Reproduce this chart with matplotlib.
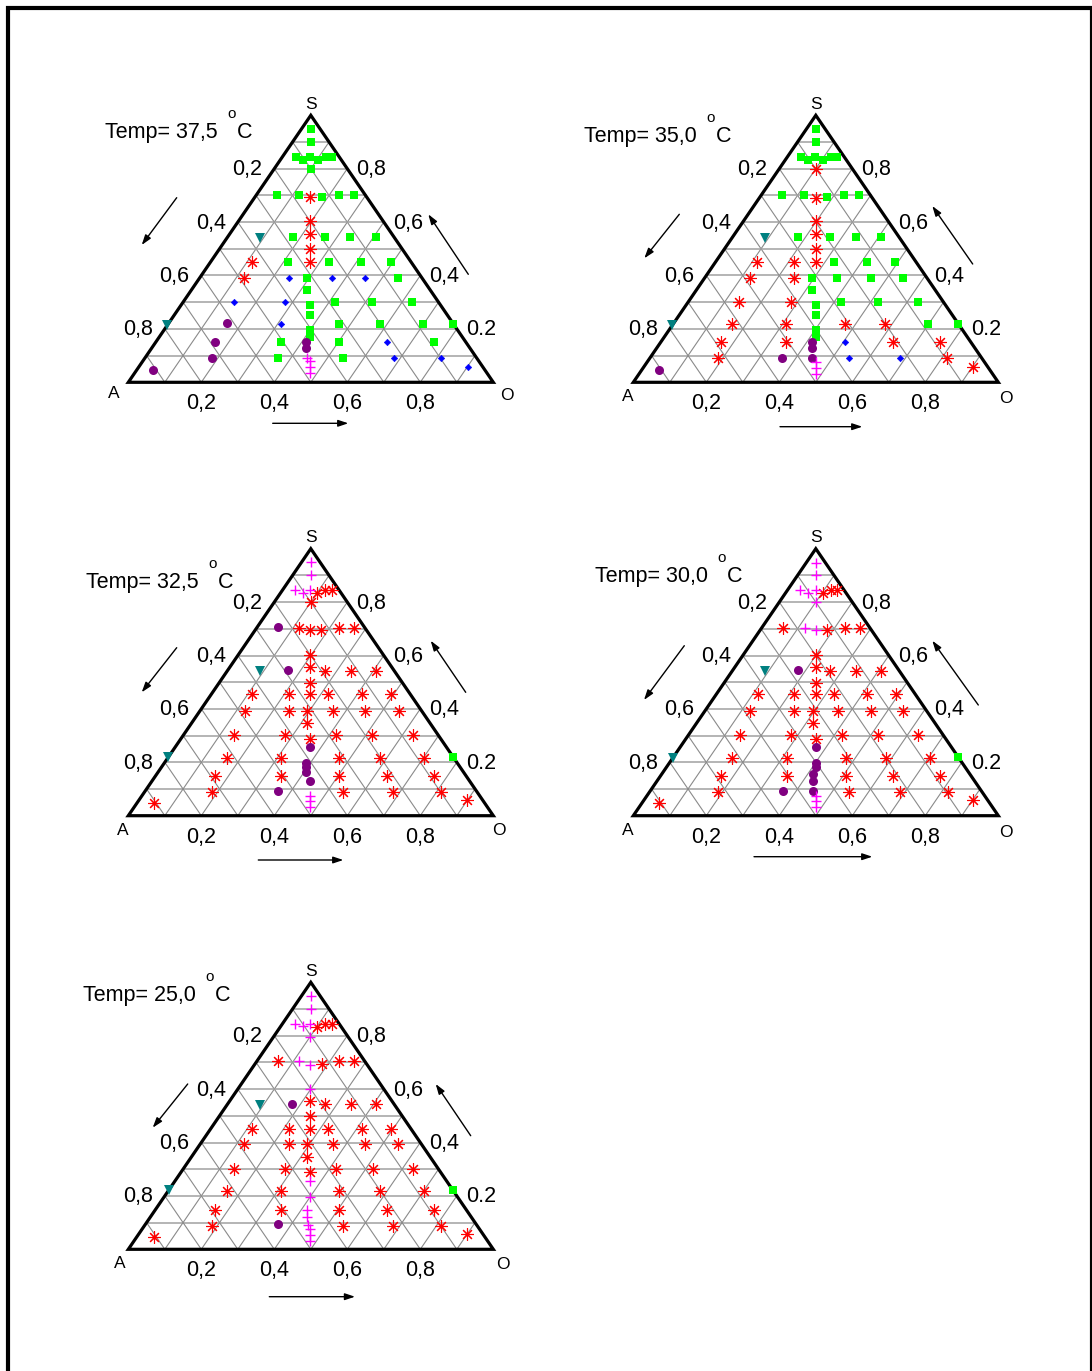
import matplotlib.pyplot as plt
from matplotlib.patches import Rectangle, Polygon

plt.rcParams['font.family'] = ['Liberation Sans', 'DejaVu Sans']

W_PX, H_PX = 1092, 1371
TRI_W, TRI_H = 365, 267

TEMPS = ['37,5', '35,0', '32,5', '30,0', '25,0']
A_TICKS = ['0,2', '0,4', '0,6', '0,8']
S_TICKS = ['0,8', '0,6', '0,4', '0.2']
O_TICKS = ['0,2', '0,4', '0,6', '0,8']
TICK_VALUES = [0.2, 0.4, 0.6, 0.8]

# compositions as (O, S); A = 1 - O - S
sq_375 = [(0.025, 0.95), (0.05, 0.90),
          (0.037, 0.845), (0.062, 0.832), (0.076, 0.845), (0.104, 0.832), (0.119, 0.845), (0.136, 0.845),
          (0.10, 0.80),
          (0.057, 0.703), (0.116, 0.703), (0.182, 0.695), (0.226, 0.703), (0.267, 0.703),
          (0.178, 0.544), (0.268, 0.544), (0.335, 0.544), (0.407, 0.544),
          (0.213, 0.45), (0.324, 0.45), (0.413, 0.45), (0.494, 0.45),
          (0.293, 0.392), (0.543, 0.392), (0.316, 0.345),
          (0.353, 0.289), (0.372, 0.252),
          (0.418, 0.299), (0.519, 0.299), (0.628, 0.299),
          (0.470, 0.217), (0.580, 0.217), (0.700, 0.217), (0.782, 0.217),
          (0.400, 0.196), (0.413, 0.171),
          (0.343, 0.150), (0.503, 0.150), (0.763, 0.150),
          (0.365, 0.092), (0.543, 0.092)]
ast_375 = [(0.150, 0.695), (0.197, 0.603), (0.221, 0.554), (0.249, 0.498), (0.273, 0.45),
           (0.115, 0.45), (0.122, 0.392)]
dia_375 = [(0.243, 0.392), (0.363, 0.392), (0.452, 0.392), (0.140, 0.299), (0.281, 0.299),
           (0.310, 0.217), (0.633, 0.150), (0.682, 0.092), (0.812, 0.092), (0.900, 0.059)]
dot_375 = [(0.159, 0.221), (0.162, 0.150), (0.182, 0.092), (0.045, 0.046), (0.412, 0.150), (0.424, 0.127)]
tri_375 = [(0.09, 0.541), (0.0, 0.214)]
plus_375 = [(0.443, 0.092), (0.457, 0.081), (0.469, 0.059), (0.481, 0.034)]

sq_350 = [(0.025, 0.95), (0.05, 0.90),
          (0.037, 0.845), (0.062, 0.832), (0.076, 0.845), (0.104, 0.832), (0.119, 0.845), (0.136, 0.845),
          (0.057, 0.703), (0.116, 0.703), (0.182, 0.695), (0.226, 0.703), (0.267, 0.703),
          (0.179, 0.544), (0.268, 0.544), (0.339, 0.544), (0.407, 0.544),
          (0.325, 0.45), (0.415, 0.45), (0.493, 0.45),
          (0.294, 0.392), (0.363, 0.392), (0.454, 0.392), (0.542, 0.392),
          (0.318, 0.345), (0.356, 0.289), (0.374, 0.252),
          (0.420, 0.299), (0.520, 0.299), (0.630, 0.299),
          (0.700, 0.217), (0.780, 0.217),
          (0.402, 0.196), (0.415, 0.171)]
ast_350 = [(0.101, 0.798), (0.154, 0.692), (0.198, 0.603), (0.223, 0.554), (0.251, 0.498), (0.275, 0.45),
           (0.115, 0.45), (0.215, 0.45), (0.123, 0.392), (0.244, 0.392), (0.140, 0.299), (0.282, 0.299),
           (0.162, 0.217), (0.311, 0.217), (0.472, 0.217), (0.582, 0.217),
           (0.165, 0.150), (0.344, 0.150), (0.636, 0.150), (0.764, 0.150),
           (0.185, 0.092), (0.813, 0.092), (0.901, 0.059)]
dia_350 = [(0.506, 0.150), (0.545, 0.092), (0.685, 0.092)]
dot_350 = [(0.048, 0.046), (0.362, 0.092), (0.415, 0.150), (0.426, 0.127), (0.444, 0.092)]
tri_350 = [(0.09, 0.541), (0.0, 0.214)]
plus_350 = [(0.461, 0.077), (0.472, 0.055), (0.484, 0.031)]

sq_325 = [(0.781, 0.218)]
ast_325 = [(0.100, 0.835), (0.117, 0.844), (0.135, 0.844), (0.10, 0.80),
           (0.116, 0.704), (0.150, 0.695), (0.180, 0.695), (0.227, 0.703), (0.267, 0.703),
           (0.197, 0.603),
           (0.219, 0.557), (0.268, 0.542), (0.338, 0.542), (0.407, 0.542),
           (0.249, 0.498),
           (0.113, 0.454), (0.213, 0.454), (0.271, 0.454), (0.321, 0.454), (0.412, 0.454), (0.492, 0.454),
           (0.122, 0.393), (0.244, 0.393), (0.293, 0.393), (0.364, 0.393), (0.452, 0.393), (0.544, 0.393),
           (0.315, 0.348),
           (0.138, 0.302), (0.278, 0.302), (0.354, 0.289), (0.417, 0.302), (0.518, 0.302), (0.628, 0.302),
           (0.161, 0.217), (0.309, 0.217), (0.470, 0.217), (0.580, 0.217), (0.702, 0.217),
           (0.163, 0.148), (0.343, 0.148), (0.504, 0.148), (0.634, 0.148), (0.764, 0.148),
           (0.185, 0.090), (0.544, 0.090), (0.681, 0.090), (0.813, 0.090),
           (0.899, 0.059), (0.047, 0.046)]
dia_325 = []
dot_325 = [(0.056, 0.707), (0.166, 0.545), (0.370, 0.256), (0.388, 0.198), (0.397, 0.181),
           (0.405, 0.165), (0.433, 0.131), (0.362, 0.094)]
tri_325 = [(0.089, 0.541), (0.0, 0.218)]
plus_325 = [(0.025, 0.95), (0.05, 0.90), (0.036, 0.844), (0.061, 0.835), (0.076, 0.844),
            (0.461, 0.075), (0.470, 0.056), (0.481, 0.034)]

sq_300 = [(0.781, 0.218)]
ast_300 = [(0.103, 0.835), (0.119, 0.844), (0.137, 0.844),
           (0.059, 0.704), (0.184, 0.695), (0.228, 0.704), (0.269, 0.704),
           (0.198, 0.603),
           (0.221, 0.557), (0.268, 0.542), (0.339, 0.542), (0.409, 0.542),
           (0.251, 0.498),
           (0.114, 0.454), (0.214, 0.454), (0.273, 0.454), (0.324, 0.454), (0.412, 0.454), (0.493, 0.454),
           (0.123, 0.393), (0.243, 0.393), (0.295, 0.393), (0.363, 0.393), (0.456, 0.393), (0.543, 0.393),
           (0.317, 0.348),
           (0.141, 0.302), (0.280, 0.302), (0.356, 0.289), (0.420, 0.302), (0.520, 0.302), (0.630, 0.302),
           (0.163, 0.217), (0.312, 0.217), (0.474, 0.217), (0.583, 0.217), (0.705, 0.217),
           (0.166, 0.148), (0.346, 0.148), (0.508, 0.148), (0.637, 0.148), (0.766, 0.148),
           (0.186, 0.090), (0.547, 0.090), (0.687, 0.090), (0.816, 0.090),
           (0.902, 0.059), (0.048, 0.046)]
dia_300 = []
dot_300 = [(0.178, 0.545), (0.372, 0.256), (0.401, 0.198), (0.410, 0.181), (0.412, 0.158),
           (0.426, 0.131), (0.362, 0.094), (0.444, 0.094)]
tri_300 = [(0.09, 0.541), (0.0, 0.217)]
plus_300 = [(0.026, 0.948), (0.05, 0.90), (0.036, 0.844), (0.062, 0.835), (0.078, 0.844), (0.10, 0.80),
            (0.118, 0.704), (0.153, 0.695), (0.462, 0.075), (0.472, 0.056), (0.483, 0.034)]

sq_250 = [(0.779, 0.222)]
ast_250 = [(0.102, 0.832), (0.117, 0.844), (0.137, 0.844),
           (0.059, 0.704), (0.184, 0.695), (0.226, 0.704), (0.266, 0.704),
           (0.221, 0.555), (0.268, 0.543), (0.338, 0.543), (0.407, 0.543),
           (0.249, 0.499),
           (0.114, 0.452), (0.214, 0.452), (0.272, 0.452), (0.322, 0.452), (0.413, 0.452), (0.493, 0.452),
           (0.121, 0.394), (0.243, 0.394), (0.292, 0.394), (0.363, 0.394), (0.451, 0.394), (0.543, 0.394),
           (0.316, 0.346),
           (0.140, 0.299), (0.280, 0.299), (0.354, 0.288), (0.419, 0.299), (0.520, 0.299), (0.630, 0.299),
           (0.160, 0.219), (0.308, 0.219), (0.469, 0.219), (0.579, 0.219), (0.701, 0.219),
           (0.163, 0.149), (0.343, 0.149), (0.504, 0.149), (0.634, 0.149), (0.764, 0.149),
           (0.186, 0.088), (0.545, 0.088), (0.682, 0.088), (0.814, 0.088),
           (0.900, 0.057), (0.047, 0.047)]
dia_250 = []
dot_250 = [(0.178, 0.543), (0.363, 0.093)]
tri_250 = [(0.09, 0.539), (0.0, 0.222)]
plus_250 = [(0.025, 0.95), (0.05, 0.90), (0.036, 0.844), (0.060, 0.836), (0.076, 0.844), (0.10, 0.797),
            (0.116, 0.705), (0.152, 0.692), (0.198, 0.601), (0.371, 0.255), (0.400, 0.197),
            (0.416, 0.147), (0.428, 0.122), (0.446, 0.091), (0.461, 0.075), (0.471, 0.054), (0.482, 0.032)]

SERIES = [
    [ast_375, sq_375, dia_375, dot_375, tri_375, plus_375],
    [ast_350, sq_350, dia_350, dot_350, tri_350, plus_350],
    [ast_325, sq_325, dia_325, dot_325, tri_325, plus_325],
    [ast_300, sq_300, dia_300, dot_300, tri_300, plus_300],
    [ast_250, sq_250, dia_250, dot_250, tri_250, plus_250],
]

STYLES = [
    dict(marker=(8, 2, 0), ms=9, mew=0.8, color='#ff0000', mfc='none'),
    dict(marker='s', ms=5.8, mew=0, color='#00ff00'),
    dict(marker='D', ms=3.3, mew=0.4, color='#0000ff'),
    dict(marker='o', ms=6.5, mew=0, color='#800080'),
    dict(marker='v', ms=7.5, mew=0, color='#008080'),
    dict(marker='+', ms=7, mew=1.0, color='#ff00ff'),
]

# layout, in pixels: A-vertex of each triangle, title anchor, arrows and corner letters relative to it
ORIGINS = [(128.3, 382.3), (633.3, 382.3), (128.3, 815.7), (633.3, 815.7), (128.3, 1249.3)]
TITLE_POS = [(-23.3, -244.3), (-49.3, -240.6), (-42.3, -227.4), (-38.3, -234.0), (-45.6, -248.6)]
ARROWS = [
    [((48.4, -184.6), (13.4, -137.3)), ((340, -108), (300, -168)), ((144.4, 41), (220, 41))],
    [((46, -168), (11, -124)), ((339.4, -118.3), (299, -176.3)), ((146.7, 44.4), (229, 44.4))],
    [((48.4, -168), (13.4, -123.4)), ((337.4, -123.4), (302.4, -175)), ((130, 44.3), (215, 44.3))],
    [((51, -170), (10.7, -115.7)), ((345, -110.7), (299, -175)), ((120.7, 41), (239, 41))],
    [((59.4, -165.3), (24.4, -121.6)), ((342.4, -113.6), (307.4, -165.3)), ((141, 47.4), (226.7, 47.4))],
]
CORNERS = [(-15, 16, 379, 17.7), (-6, 18.4, 373, 21), (-6, 19.3, 371, 19.3),
           (-6, 19.3, 373, 21), (-8.7, 18.7, 375, 20)]


def px(dx, dy):
    return dx / TRI_W, -dy / TRI_H


def to_xy(pts):
    return [o + s / 2 for o, s in pts], [s for o, s in pts]


fig = plt.figure(figsize=(W_PX / 100, H_PX / 100), dpi=100)
fig.add_artist(Rectangle((8 / W_PX, -0.05), (1091.5 - 8) / W_PX, 1.05 - 8 / H_PX,
                         transform=fig.transFigure, fill=False, lw=3, ec='black'))

for k in range(5):
    ax0, ay0 = ORIGINS[k]
    ax = fig.add_axes([ax0 / W_PX, 1 - ay0 / H_PX, TRI_W / W_PX, TRI_H / H_PX])
    ax.set_xlim(0, 1)
    ax.set_ylim(0, 1)
    ax.axis('off')

    # grid lines
    for i in range(1, 10):
        f = i / 10
        ax.plot([f / 2, 1 - f / 2], [f, f], color='#a0a0a0', lw=1.1, zorder=1)
        ax.plot([f, f + (1 - f) / 2], [0, 1 - f], color='#8a8a8a', lw=0.8, zorder=1)
        ax.plot([1 - f, (1 - f) / 2], [0, 1 - f], color='#8a8a8a', lw=0.8, zorder=1)
    ax.add_patch(Polygon([(0, 0), (1, 0), (0.5, 1)], closed=True, fill=False,
                         ec='black', lw=2.3, zorder=2, clip_on=False, joinstyle='miter'))

    for pts, st in zip(SERIES[k], STYLES):
        if not pts:
            continue
        x, y = to_xy(pts)
        ax.plot(x, y, ls='none', clip_on=False, zorder=3, **st)

    # tick labels on the three sides
    for v, la, ls_, lo in zip(TICK_VALUES, A_TICKS, S_TICKS, O_TICKS):
        s = 1 - v
        ax.text(s / 2 - 12 / TRI_W, s - 1 / TRI_H, la, ha='right', va='center', fontsize=15.5)
        ax.text(1 - s / 2 + 9 / TRI_W, s - 1 / TRI_H, ls_, ha='left', va='center', fontsize=15.5)
        ax.text(v, -11 / TRI_H, lo, ha='center', va='top', fontsize=15.5)

    # vertex letters
    adx, ady, odx, ody = CORNERS[k]
    ax.text(0.5, 1 + 6.5 / TRI_H, 'S', ha='center', va='baseline', fontsize=12.5)
    ax.text(*px(adx, ady), 'A', ha='center', va='baseline', fontsize=12.5)
    ax.text(*px(odx, ody), 'O', ha='center', va='baseline', fontsize=12.5)

    # temperature label
    tx, ty = TITLE_POS[k]
    ax.text(*px(tx, ty), 'Temp= ' + TEMPS[k], ha='left', va='baseline', fontsize=15.5)
    ax.text(*px(tx + 127, ty - 20), 'o', ha='center', va='baseline', fontsize=11)
    ax.text(*px(tx + 132, ty), 'C', ha='left', va='baseline', fontsize=15.5)

    for tail, head in ARROWS[k]:
        ax.annotate('', xy=px(*head), xytext=px(*tail), annotation_clip=False,
                    arrowprops=dict(arrowstyle='-|>,head_length=0.6,head_width=0.2',
                                    color='black', lw=1.0, shrinkA=0, shrinkB=0))

fig.savefig('out.png', dpi=100)
